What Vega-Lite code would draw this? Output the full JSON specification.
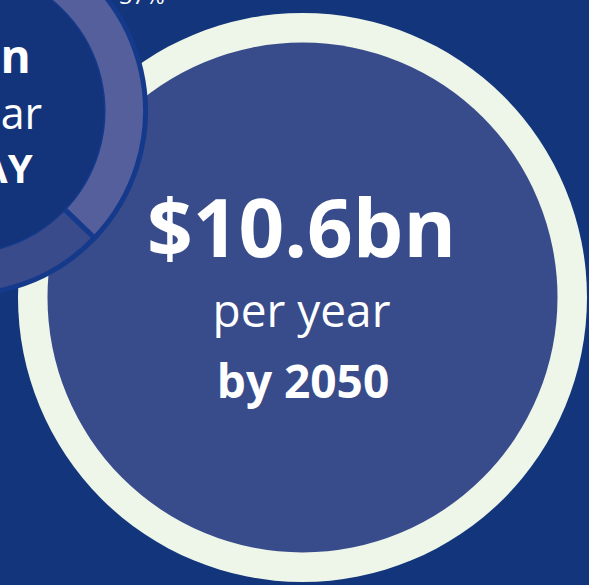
{
  "$schema": "https://vega.github.io/schema/vega-lite/v6.json",
  "width": 589,
  "height": 585,
  "padding": 0,
  "autosize": {"type": "none"},
  "background": "#13357b",
  "config": {"view": {"stroke": null}, "axis": {"disable": true}},
  "datasets": {
    "circles": [
      {"name": "2050", "cx": 302.5, "cy": 297.5},
      {"name": "today", "cx": -38, "cy": 111}
    ],
    "share": [
      {"segment": "first", "pct": 63, "idx": 1, "cx": -38, "cy": 111},
      {"segment": "second", "pct": 37, "idx": 2, "cx": -38, "cy": 111}
    ],
    "labels": [
      {"text": "$10.6bn", "role": "headline", "x": 301.5, "y": 257},
      {"text": "per year", "role": "sub", "x": 301.5, "y": 327},
      {"text": "by 2050", "role": "date", "x": 303, "y": 398},
      {"text": "$3.9bn", "role": "smallHead", "x": -45, "y": 73},
      {"text": "per year", "role": "smallSub", "x": -41, "y": 129},
      {"text": "TODAY", "role": "smallDate", "x": -36, "y": 183},
      {"text": "37%", "role": "pct", "x": 142, "y": 4}
    ]
  },
  "encoding": {
    "x": {"field": "cx", "type": "quantitative", "scale": {"domain": [0, 589], "range": [0, 589]}, "axis": null},
    "y": {"field": "cy", "type": "quantitative", "scale": {"domain": [0, 585], "range": [0, 585]}, "axis": null}
  },
  "layer": [
    {
      "data": {"name": "circles"},
      "transform": [{"filter": "datum.name == '2050'"}],
      "mark": {"type": "arc", "theta": 0, "theta2": 6.2832, "radius": 284.5, "fill": "#eef5e9", "clip": false}
    },
    {
      "data": {"name": "circles"},
      "transform": [{"filter": "datum.name == '2050'"}],
      "mark": {"type": "arc", "theta": 0, "theta2": 6.2832, "radius": 255, "fill": "#384b8b", "clip": false}
    },
    {
      "data": {"name": "share"},
      "mark": {"type": "arc", "radius": 183.5, "radius2": 141, "stroke": "#163a8b", "strokeWidth": 5, "clip": false},
      "encoding": {
        "theta": {"field": "pct", "type": "quantitative", "stack": true, "scale": {"range": [-1.623, 4.660]}},
        "order": {"field": "idx", "type": "quantitative"},
        "color": {"field": "segment", "type": "nominal", "scale": {"domain": ["first", "second"], "range": ["#545f9c", "#394b8b"]}, "legend": null}
      }
    },
    {
      "data": {"name": "circles"},
      "transform": [{"filter": "datum.name == 'today'"}],
      "mark": {"type": "arc", "theta": 0, "theta2": 6.2832, "radius": 142, "fill": "#13347b", "clip": false}
    },
    {
      "data": {"name": "labels"},
      "transform": [{"filter": "datum.role == 'headline'"}],
      "mark": {"type": "text", "font": "Open Sans", "fontWeight": "bold", "fontSize": 80, "color": "#ffffff", "align": "center", "baseline": "alphabetic"},
      "encoding": {"x": {"field": "x", "type": "quantitative"}, "y": {"field": "y", "type": "quantitative"}, "text": {"field": "text"}}
    },
    {
      "data": {"name": "labels"},
      "transform": [{"filter": "datum.role == 'sub'"}],
      "mark": {"type": "text", "font": "Open Sans", "fontWeight": "normal", "fontSize": 46, "color": "#ffffff", "align": "center", "baseline": "alphabetic"},
      "encoding": {"x": {"field": "x", "type": "quantitative"}, "y": {"field": "y", "type": "quantitative"}, "text": {"field": "text"}}
    },
    {
      "data": {"name": "labels"},
      "transform": [{"filter": "datum.role == 'smallSub'"}],
      "mark": {"type": "text", "font": "Open Sans", "fontWeight": "normal", "fontSize": 43, "color": "#ffffff", "align": "center", "baseline": "alphabetic"},
      "encoding": {"x": {"field": "x", "type": "quantitative"}, "y": {"field": "y", "type": "quantitative"}, "text": {"field": "text"}}
    },
    {
      "data": {"name": "labels"},
      "transform": [{"filter": "datum.role == 'date'"}],
      "mark": {"type": "text", "font": "Open Sans", "fontWeight": "bold", "fontSize": 46, "color": "#ffffff", "align": "center", "baseline": "alphabetic"},
      "encoding": {"x": {"field": "x", "type": "quantitative"}, "y": {"field": "y", "type": "quantitative"}, "text": {"field": "text"}}
    },
    {
      "data": {"name": "labels"},
      "transform": [{"filter": "datum.role == 'smallHead'"}],
      "mark": {"type": "text", "font": "Open Sans", "fontWeight": "bold", "fontSize": 46, "color": "#ffffff", "align": "center", "baseline": "alphabetic"},
      "encoding": {"x": {"field": "x", "type": "quantitative"}, "y": {"field": "y", "type": "quantitative"}, "text": {"field": "text"}}
    },
    {
      "data": {"name": "labels"},
      "transform": [{"filter": "datum.role == 'smallDate'"}],
      "mark": {"type": "text", "font": "Open Sans", "fontWeight": "bold", "fontSize": 40, "color": "#ffffff", "align": "center", "baseline": "alphabetic"},
      "encoding": {"x": {"field": "x", "type": "quantitative"}, "y": {"field": "y", "type": "quantitative"}, "text": {"field": "text"}}
    },
    {
      "data": {"name": "labels"},
      "transform": [{"filter": "datum.role == 'pct'"}],
      "mark": {"type": "text", "font": "Open Sans", "fontWeight": "normal", "fontSize": 23, "color": "#ffffff", "align": "center", "baseline": "alphabetic"},
      "encoding": {"x": {"field": "x", "type": "quantitative"}, "y": {"field": "y", "type": "quantitative"}, "text": {"field": "text"}}
    }
  ]
}
